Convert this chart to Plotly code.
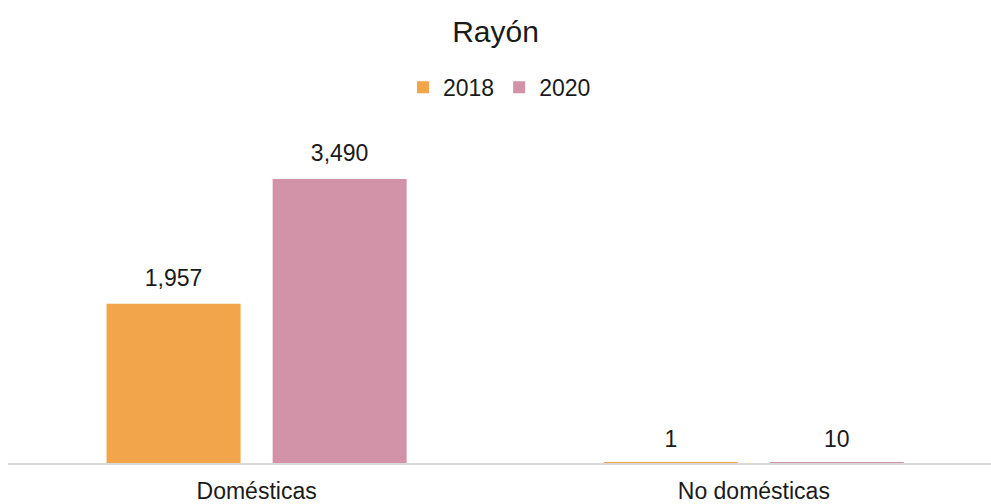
import plotly.graph_objects as go

# Data
categories = ['Domésticas', 'No domésticas']
years = ['2018', '2020']
values_2018 = [1957, 1]
values_2020 = [3490, 10]
colors = ['#F2A54A', '#D293A8']

fig = go.Figure()

for name, vals, color in zip(years, [values_2018, values_2020], colors):
    fig.add_trace(go.Bar(
        x=categories,
        y=vals,
        name=name,
        offsetgroup=name,
        marker=dict(color=color, line=dict(width=0)),
        cliponaxis=False,
    ))

# value labels, placed above each bar via grouped scatter
# (invisible marker size sets the gap between bar top and label)
for name, vals in zip(years, [values_2018, values_2020]):
    fig.add_trace(go.Scatter(
        x=categories,
        y=vals,
        offsetgroup=name,
        mode='markers+text',
        marker=dict(size=[18, 14], opacity=0),
        text=[f'{v:,}' for v in vals],
        textposition='top center',
        textfont=dict(size=23, color='#1a1a1a'),
        showlegend=False,
        hoverinfo='skip',
        cliponaxis=False,
    ))

fig.update_layout(
    width=991,
    height=504,
    barmode='group',
    scattermode='group',
    bargap=0.332,
    bargroupgap=0.193,
    paper_bgcolor='white',
    plot_bgcolor='white',
    font=dict(family='Liberation Sans, Arial, sans-serif', color='#1a1a1a'),
    title=dict(
        text='Rayón',
        font=dict(size=30, color='#1a1a1a'),
        x=0.5, xanchor='center',
        yref='container', y=0.937, yanchor='middle',
    ),
    legend=dict(
        orientation='h',
        x=0.5, xanchor='center',
        yref='container', y=0.827, yanchor='middle',
        font=dict(size=23),
        itemwidth=30,
    ),
    margin=dict(l=8, r=0, t=100, b=41, autoexpand=False),
    xaxis=dict(
        range=[-0.5, 1.477],
        automargin=False,
        showline=True,
        linecolor='#D9D9D9',
        linewidth=2,
        showgrid=False,
        ticks='',
        ticklabelstandoff=6,
        tickfont=dict(size=23, color='#1a1a1a'),
    ),
    yaxis=dict(
        range=[0, 4462],
        automargin=False,
        visible=False,
        showgrid=False,
        zeroline=False,
    ),
)

fig.write_html(
    "out.html",
    config={'displayModeBar': False},
    post_script="document.body.style.margin='0';",
)
